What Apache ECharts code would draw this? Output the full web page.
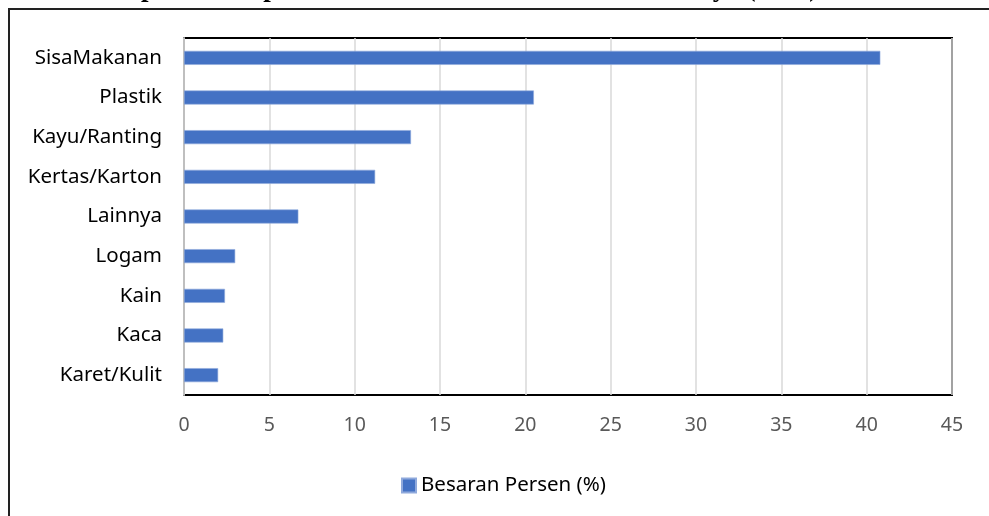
<!DOCTYPE html>
<html>
<head>
<meta charset="utf-8">
<script src="https://cdn.jsdelivr.net/npm/echarts@6/dist/echarts.min.js"></script>
<style>html,body{margin:0;padding:0;background:#fff;}#c{width:989px;height:516px;}</style>
</head>
<body>
<div id="c"></div>
<script>
const categories = ['SisaMakanan','Plastik','Kayu/Ranting','Kertas/Karton','Lainnya','Logam','Kain','Kaca','Karet/Kulit'];
const values = [40.8, 20.5, 13.3, 11.2, 6.7, 3.0, 2.4, 2.3, 2.0];
const seriesName = 'Besaran Persen (%)';
const titleText = 'Komposisi Sampah Berdasarkan Jenis di Kota Surabaya (2021)';
const xTicks = {min: 0, max: 45, interval: 5};

const chart = echarts.init(document.getElementById('c'));
chart.setOption({
  animation: false,
  textStyle: {fontFamily: 'Noto Sans'},
  graphic: [
    {type: 'rect', shape: {x: 9, y: 9, width: 1000, height: 600}, style: {fill: 'none', stroke: '#222', lineWidth: 2}, z: 0},
    {type: 'text', left: 84, top: -24.5, style: {text: titleText, font: 'bold 27px "Liberation Serif"', fill: '#000'}, z: 1}
  ],
  grid: {left: 184, right: 37, top: 38, bottom: 121, show: true, borderColor: '#000', borderWidth: 2, backgroundColor: '#fff'},
  legend: {
    data: [seriesName], left: 396, top: 470, itemWidth: 14, itemHeight: 14, itemGap: 6, icon: 'rect',
    textStyle: {fontSize: 20.5, color: '#000', fontFamily: 'Noto Sans'}
  },
  xAxis: {
    type: 'value', min: xTicks.min, max: xTicks.max, interval: xTicks.interval,
    axisLine: {show: false}, axisTick: {show: false},
    splitLine: {show: true, lineStyle: {color: '#d9d9d9', width: 1.5}},
    axisLabel: {color: '#595959', fontSize: 19.5, margin: 20, fontFamily: 'Noto Sans'}
  },
  yAxis: {
    type: 'category', data: categories, inverse: true,
    axisLine: {show: true, lineStyle: {color: '#bfbfbf', width: 2}}, axisTick: {show: false},
    axisLabel: {color: '#000', fontSize: 20.5, margin: 22, fontFamily: 'Noto Sans'}
  },
  series: [{
    name: seriesName, type: 'bar', data: values, barWidth: 14,
    itemStyle: {color: '#4472C4', borderColor: '#8fa9dc', borderWidth: 0.6}
  }]
});
</script>
</body>
</html>
